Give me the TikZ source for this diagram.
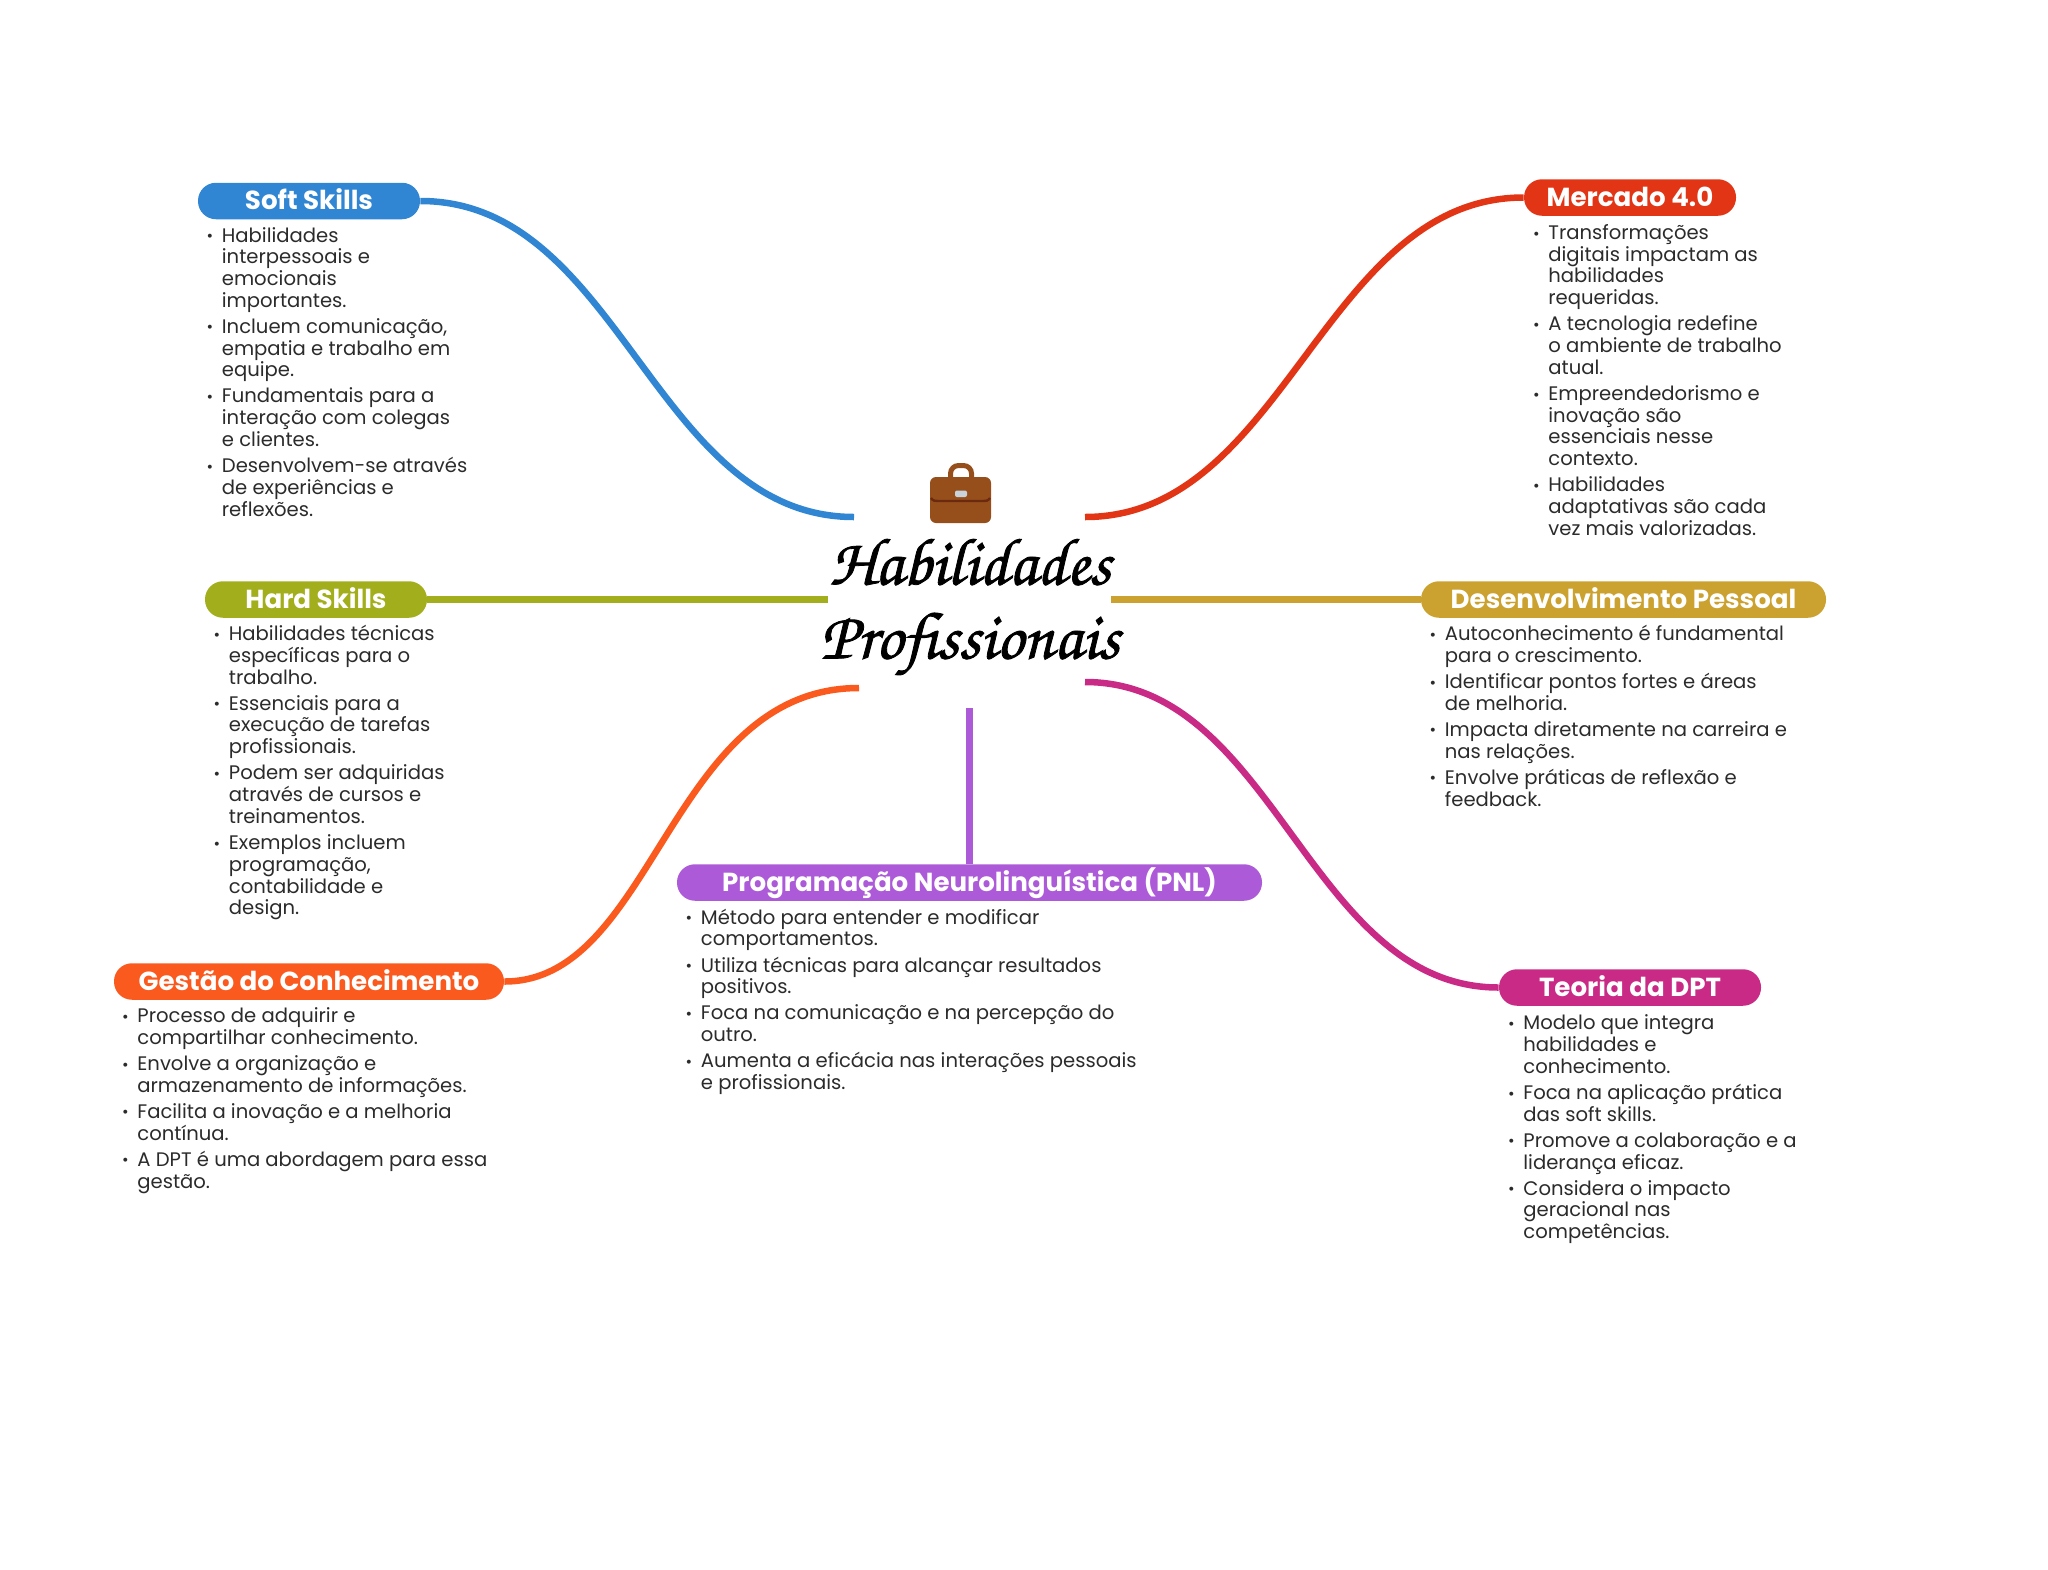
\documentclass[tikz,border=0pt]{standalone}
\usepackage{fontspec}
\setmainfont{Poppins}
\newfontfamily\titlefont[FakeBold=1.2]{TeX Gyre Chorus}
\definecolor{softc}{HTML}{3186D3}
\definecolor{mercc}{HTML}{E23516}
\definecolor{hardc}{HTML}{A3AE1C}
\definecolor{devc}{HTML}{CBA12F}
\definecolor{pnlc}{HTML}{AC5AD8}
\definecolor{gestc}{HTML}{FA5A1E}
\definecolor{dptc}{HTML}{C92A86}
\definecolor{bagc}{HTML}{964F1B}
\definecolor{bagd}{HTML}{6B2A10}
\definecolor{clasp}{HTML}{C9D3DA}
\definecolor{bodyc}{HTML}{2B2B2B}
\tikzset{
  head/.style={fill=#1,text=white,rounded corners=9pt,minimum height=18.25pt,inner xsep=0pt,inner ysep=0pt,
    font=\fontsize{13.05}{14}\selectfont\bfseries,text height=11.5pt,text depth=3pt},
  link/.style={draw=#1,line width=3.25pt},
  bullets/.style={anchor=base west,inner sep=0pt,text=bodyc,font=\fontsize{9.8}{10.87}\selectfont},
}
\newcommand{\li}{\makebox[9pt][l]{\hspace{1.4pt}\raisebox{0.2pt}{\fontsize{8}{8}\selectfont •}}}
\begin{document}
\begin{tikzpicture}[x=0.5pt,y=-0.5pt]
\useasboundingbox (0,0) rectangle (2048,1569);
\node[align=center,inner sep=0pt,font=\titlefont\fontsize{33.5}{37}\selectfont] (title) at (970,607) {Habilidades\\Profissionais};
\draw[bagc,line width=2.5pt,rounded corners=4pt] (950.5,480) -- (950.5,465.5) -- (971.5,465.5) -- (971.5,480);
\fill[bagc,rounded corners=3pt] (930,477) rectangle (991,523);
\draw[bagd,line width=1.2pt] (931,498) .. controls (933,501) and (935,501) .. (938,501) -- (983,501) .. controls (986,501) and (988,501) .. (990,498);
\fill[clasp,rounded corners=1pt] (955,490.5) rectangle (967,497);
\node[head=softc,minimum width=111pt] (softskills) at (309,201) {Soft Skills};
\node[head=mercc,minimum width=106pt] (mercado) at (1630,197.5) {Mercado 4.0};
\node[head=hardc,minimum width=111pt] (hardskills) at (316,599.5) {Hard Skills};
\node[head=devc,minimum width=202.5pt] (desenv) at (1623.5,599.5) {Desenvolvimento Pessoal};
\node[head=pnlc,minimum width=292.5pt] (pnl) at (969.5,882.5) {Programação Neurolinguística (PNL)};
\node[head=gestc,minimum width=195pt] (gestao) at (309,981.5) {Gestão do Conhecimento};
\node[head=dptc,minimum width=131pt] (teoria) at (1630,987.5) {Teoria da DPT};
\coordinate (softend) at (854,517);
\coordinate (mercend) at (1085,517);
\coordinate (hardend) at (828,599.5);
\coordinate (devend) at (1111,599.5);
\coordinate (pnlend) at (969.5,708);
\coordinate (gestend) at (859,688);
\coordinate (dptend) at (1085,682);
\draw[link=softc] (softskills.east) .. controls +(200,0) and +(-200,0) .. (softend);
\draw[link=mercc] (mercado.west) .. controls +(-200,0) and +(200,0) .. (mercend);
\draw[link=hardc] (hardskills.east) -- (hardend);
\draw[link=devc] (desenv.west) -- (devend);
\draw[link=pnlc] (pnl.north) -- (pnlend);
\draw[link=gestc] (gestao.east) .. controls +(150,0) and +(-190,0) .. (gestend);
\draw[link=dptc] (teoria.west) .. controls +(-190,0) and +(190,0) .. (dptend);
\node[bullets] (softlist) at (203.5,242) {\begin{tabular}[t]{@{}l@{}l@{}}
\li & Habilidades\\ & interpessoais e\\ & emocionais\\ & importantes.\\[2.2pt]
\li & Incluem comunicação,\\ & empatia e trabalho em\\ & equipe.\\[2.2pt]
\li & Fundamentais para a\\ & interação com colegas\\ & e clientes.\\[2.2pt]
\li & Desenvolvem-se através\\ & de experiências e\\ & reflexões.
\end{tabular}};
\node[bullets] (merclist) at (1530,239.5) {\begin{tabular}[t]{@{}l@{}l@{}}
\li & Transformações\\ & digitais impactam as\\ & habilidades\\ & requeridas.\\[2.2pt]
\li & A tecnologia redefine\\ & o ambiente de trabalho\\ & atual.\\[2.2pt]
\li & Empreendedorismo e\\ & inovação são\\ & essenciais nesse\\ & contexto.\\[2.2pt]
\li & Habilidades\\ & adaptativas são cada\\ & vez mais valorizadas.
\end{tabular}};
\node[bullets] (hardlist) at (210.5,640.5) {\begin{tabular}[t]{@{}l@{}l@{}}
\li & Habilidades técnicas\\ & específicas para o\\ & trabalho.\\[2.2pt]
\li & Essenciais para a\\ & execução de tarefas\\ & profissionais.\\[2.2pt]
\li & Podem ser adquiridas\\ & através de cursos e\\ & treinamentos.\\[2.2pt]
\li & Exemplos incluem\\ & programação,\\ & contabilidade e\\ & design.
\end{tabular}};
\node[bullets] (devlist) at (1426.5,640.5) {\begin{tabular}[t]{@{}l@{}l@{}}
\li & Autoconhecimento é fundamental\\ & para o crescimento.\\[2.2pt]
\li & Identificar pontos fortes e áreas\\ & de melhoria.\\[2.2pt]
\li & Impacta diretamente na carreira e\\ & nas relações.\\[2.2pt]
\li & Envolve práticas de reflexão e\\ & feedback.
\end{tabular}};
\node[bullets] (pnllist) at (682.5,924) {\begin{tabular}[t]{@{}l@{}l@{}}
\li & Método para entender e modificar\\ & comportamentos.\\[2.2pt]
\li & Utiliza técnicas para alcançar resultados\\ & positivos.\\[2.2pt]
\li & Foca na comunicação e na percepção do\\ & outro.\\[2.2pt]
\li & Aumenta a eficácia nas interações pessoais\\ & e profissionais.
\end{tabular}};
\node[bullets] (gestlist) at (119,1022.5) {\begin{tabular}[t]{@{}l@{}l@{}}
\li & Processo de adquirir e\\ & compartilhar conhecimento.\\[2.2pt]
\li & Envolve a organização e\\ & armazenamento de informações.\\[2.2pt]
\li & Facilita a inovação e a melhoria\\ & contínua.\\[2.2pt]
\li & A DPT é uma abordagem para essa\\ & gestão.
\end{tabular}};
\node[bullets] (dptlist) at (1505,1029.7) {\begin{tabular}[t]{@{}l@{}l@{}}
\li & Modelo que integra\\ & habilidades e\\ & conhecimento.\\[2.2pt]
\li & Foca na aplicação prática\\ & das soft skills.\\[2.2pt]
\li & Promove a colaboração e a\\ & liderança eficaz.\\[2.2pt]
\li & Considera o impacto\\ & geracional nas\\ & competências.
\end{tabular}};
\end{tikzpicture}
\end{document}
